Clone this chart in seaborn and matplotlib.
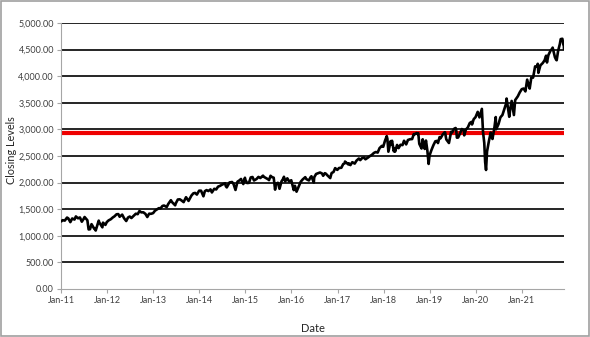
import matplotlib
matplotlib.use("Agg")
import matplotlib.pyplot as plt
import matplotlib.dates as mdates
from matplotlib.patches import Rectangle
from matplotlib.ticker import FuncFormatter
import pandas as pd
import seaborn as sns

dates = [
    "2011-01-03","2011-01-14","2011-01-31","2011-02-18","2011-02-28","2011-03-16","2011-03-31",
    "2011-04-18","2011-04-29","2011-05-16","2011-05-31","2011-06-15","2011-06-30","2011-07-07",
    "2011-07-29","2011-08-08","2011-08-19","2011-08-31","2011-09-22","2011-09-30","2011-10-03",
    "2011-10-27","2011-10-31","2011-11-25","2011-11-30","2011-12-19","2011-12-30",
    "2012-01-13","2012-01-31","2012-02-15","2012-02-29","2012-03-16","2012-03-30","2012-04-10",
    "2012-04-30","2012-05-15","2012-06-01","2012-06-15","2012-06-29","2012-07-12","2012-07-31",
    "2012-08-16","2012-08-31","2012-09-14","2012-09-28","2012-10-15","2012-10-31","2012-11-15",
    "2012-11-30","2012-12-14","2012-12-31",
    "2013-01-15","2013-01-31","2013-02-15","2013-02-28","2013-03-15","2013-03-28","2013-04-18",
    "2013-04-30","2013-05-21","2013-05-31","2013-06-24","2013-06-28","2013-07-15","2013-07-31",
    "2013-08-15","2013-08-30","2013-09-18","2013-09-30","2013-10-08","2013-10-31","2013-11-15",
    "2013-11-29","2013-12-13","2013-12-31",
    "2014-01-15","2014-02-03","2014-02-14","2014-02-28","2014-03-14","2014-03-31","2014-04-11",
    "2014-04-30","2014-05-15","2014-05-30","2014-06-13","2014-06-30","2014-07-24","2014-07-31",
    "2014-08-07","2014-08-29","2014-09-18","2014-09-30","2014-10-15","2014-10-31","2014-11-14",
    "2014-11-28","2014-12-16","2014-12-29","2014-12-31",
    "2015-01-15","2015-01-30","2015-02-13","2015-02-27","2015-03-11","2015-03-31","2015-04-15",
    "2015-04-30","2015-05-21","2015-05-29","2015-06-15","2015-06-30","2015-07-08","2015-07-20",
    "2015-07-31","2015-08-14","2015-08-25","2015-08-31","2015-09-16","2015-09-29","2015-10-15",
    "2015-10-30","2015-11-03","2015-11-13","2015-11-30","2015-12-14","2015-12-31",
    "2016-01-20","2016-01-29","2016-02-11","2016-02-29","2016-03-15","2016-03-31","2016-04-20",
    "2016-04-29","2016-05-19","2016-05-31","2016-06-08","2016-06-27","2016-06-30","2016-07-15",
    "2016-07-29","2016-08-15","2016-08-31","2016-09-09","2016-09-22","2016-09-30","2016-10-14",
    "2016-11-04","2016-11-15","2016-11-30","2016-12-13","2016-12-30",
    "2017-01-13","2017-01-31","2017-02-15","2017-02-28","2017-03-01","2017-03-27","2017-03-31",
    "2017-04-13","2017-04-28","2017-05-17","2017-05-31","2017-06-19","2017-06-30","2017-07-14",
    "2017-07-31","2017-08-10","2017-08-31","2017-09-15","2017-09-29","2017-10-16","2017-10-31",
    "2017-11-15","2017-11-30","2017-12-18","2017-12-29",
    "2018-01-12","2018-01-26","2018-01-31","2018-02-08","2018-02-26","2018-02-28","2018-03-09",
    "2018-03-23","2018-03-29","2018-04-02","2018-04-18","2018-04-30","2018-05-15","2018-05-31",
    "2018-06-12","2018-06-29","2018-07-13","2018-07-31","2018-08-15","2018-08-29","2018-08-31",
    "2018-09-20","2018-09-28","2018-10-03","2018-10-11","2018-10-29","2018-10-31","2018-11-07",
    "2018-11-23","2018-11-30","2018-12-03","2018-12-14","2018-12-24","2018-12-31",
    "2019-01-15","2019-01-31","2019-02-15","2019-02-28","2019-03-08","2019-03-21","2019-03-29",
    "2019-04-15","2019-04-30","2019-05-03","2019-05-13","2019-05-31","2019-06-03","2019-06-20",
    "2019-06-28","2019-07-15","2019-07-26","2019-07-31","2019-08-05","2019-08-15","2019-08-30",
    "2019-09-13","2019-09-30","2019-10-02","2019-10-15","2019-10-31","2019-11-15","2019-11-29",
    "2019-12-03","2019-12-16","2019-12-31",
    "2020-01-17","2020-01-31","2020-02-19","2020-02-28","2020-03-09","2020-03-16","2020-03-23",
    "2020-03-31","2020-04-15","2020-04-29","2020-04-30","2020-05-13","2020-05-29","2020-06-08",
    "2020-06-11","2020-06-30","2020-07-15","2020-07-31","2020-08-14","2020-08-31","2020-09-02",
    "2020-09-23","2020-09-30","2020-10-12","2020-10-30","2020-11-09","2020-11-30","2020-12-15",
    "2020-12-31",
    "2021-01-15","2021-01-29","2021-02-12","2021-02-26","2021-03-04","2021-03-17","2021-03-31",
    "2021-04-16","2021-04-30","2021-05-07","2021-05-12","2021-05-28","2021-06-15","2021-06-30",
    "2021-07-12","2021-07-19","2021-07-30","2021-08-16","2021-08-31","2021-09-02","2021-09-20",
    "2021-09-30","2021-10-04","2021-10-15","2021-10-29","2021-11-05","2021-11-18","2021-11-26",
    "2021-11-30","2021-12-01",
]

closing = [
    1271,1293,1286,1343,1327,1257,1326,
    1305,1364,1329,1345,1265,1321,1353,
    1292,1119,1124,1219,1130,1131,1099,
    1285,1253,1159,1247,1205,1258,
    1289,1312,1344,1366,1404,1408,1358,
    1398,1330,1278,1343,1362,1334,1379,
    1415,1407,1466,1441,1441,1412,1353,
    1416,1413,1426,
    1472,1498,1520,1515,1561,1569,1541,
    1598,1669,1631,1573,1606,1682,1686,
    1661,1633,1725,1682,1656,1757,1798,
    1806,1775,1848,
    1848,1742,1838,1859,1841,1872,1815,
    1884,1871,1924,1937,1960,1988,1931,
    1910,2003,2011,1972,1862,2018,2039,
    2068,1972,2091,2059,
    1992,1995,2097,2105,2040,2068,2107,
    2086,2131,2107,2084,2063,2047,2128,
    2104,2092,1868,1972,1996,1884,2024,
    2079,2109,2023,2080,2021,2044,
    1859,1940,1829,1932,2016,2060,2102,
    2065,2040,2097,2119,2001,2099,2162,
    2174,2190,2171,2128,2177,2168,2133,
    2085,2180,2199,2272,2239,
    2275,2279,2349,2364,2396,2342,2363,
    2329,2384,2357,2412,2453,2423,2459,
    2470,2438,2472,2500,2519,2557,2575,
    2564,2648,2690,2674,
    2786,2873,2824,2581,2780,2714,2786,
    2588,2641,2582,2708,2648,2711,2705,
    2787,2718,2801,2816,2818,2914,2902,
    2931,2914,2926,2729,2641,2712,2814,
    2633,2760,2790,2600,2351,2507,
    2610,2704,2776,2784,2743,2855,2834,
    2906,2946,2946,2812,2752,2744,2954,
    2942,3014,3026,2980,2844,2848,2926,
    3007,2977,2888,2996,3038,3120,3141,
    3093,3191,3231,
    3330,3226,3386,2954,2747,2386,2237,
    2585,2783,2940,2912,2820,3044,3232,
    3002,3100,3227,3271,3373,3500,3580,
    3237,3363,3535,3270,3551,3622,3695,
    3756,
    3768,3714,3935,3811,3768,3974,3973,
    4185,4181,4233,4063,4204,4246,4298,
    4385,4258,4395,4480,4523,4537,4358,
    4308,4300,4471,4605,4697,4704,4595,
    4567,4513,
]

threshold = 2935
y_ticks = [0, 500, 1000, 1500, 2000, 2500, 3000, 3500, 4000, 4500, 5000]
x_tick_years = list(range(2011, 2022))

df = pd.DataFrame({"Date": pd.to_datetime(dates), "Closing Levels": closing})

sns.set_style("white")
plt.rcParams["font.family"] = ["Lato", "DejaVu Sans"]

fig = plt.figure(figsize=(5.9, 3.37), dpi=100)
ax = fig.add_axes([61/590, 1-289/337, (564-61)/590, (289-23)/337])

for v in y_ticks[1:]:
    ax.axhline(v, color="black", lw=1.2, zorder=1)
ax.axhline(threshold, color="#ee0000", lw=3.0, zorder=2)

sns.lineplot(data=df, x="Date", y="Closing Levels", color="black", lw=1.9, ax=ax, zorder=3)

ax.set_xlim(pd.Timestamp("2011-01-01"), pd.Timestamp("2021-12-01"))
ax.set_ylim(0, 5000)
ax.set_yticks(y_ticks)
ax.yaxis.set_major_formatter(FuncFormatter(lambda v, p: f"{v:,.2f}"))
ax.set_xticks([pd.Timestamp(f"{y}-01-01") for y in x_tick_years])
ax.xaxis.set_major_formatter(mdates.DateFormatter("%b-%y"))

for s in ["top", "right"]:
    ax.spines[s].set_visible(False)
for s in ["left", "bottom"]:
    ax.spines[s].set_color("#a6a6a6")
    ax.spines[s].set_linewidth(0.8)

ax.tick_params(axis="both", which="major", direction="out", length=3, width=0.8,
               color="#a6a6a6", labelsize=6.5, labelcolor="#404040", pad=2, left=True, bottom=True)
ax.set_xlabel("Date", fontsize=8, color="#262626", labelpad=13)
ax.set_ylabel("Closing Levels", fontsize=7.8, color="#262626")
ax.yaxis.set_label_coords(-(61 - 17) / 503, (289 - 150) / 266)

fig.patches.append(Rectangle((0.001, 0.002), 0.997, 0.995, transform=fig.transFigure,
                             fill=False, edgecolor="#a0a0a0", lw=1.2))

fig.savefig("out.png", dpi=100)
